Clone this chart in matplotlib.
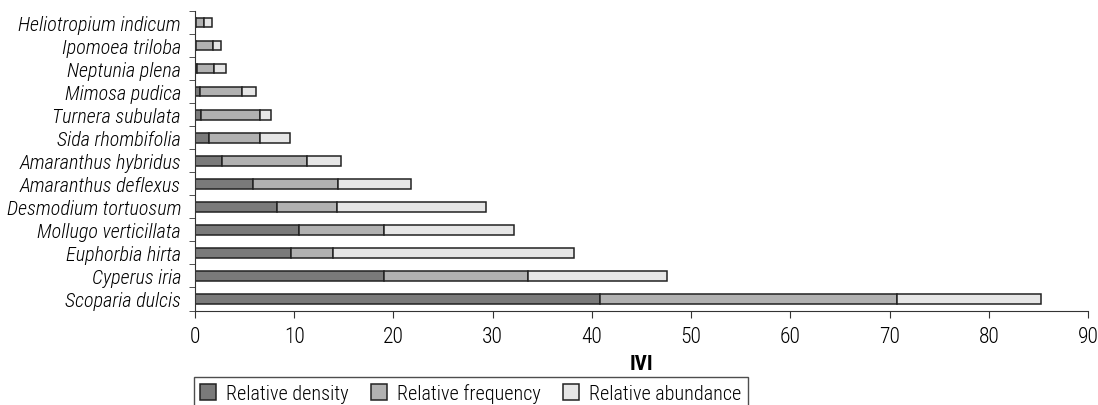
import matplotlib
matplotlib.use('Agg')
import matplotlib.pyplot as plt
import numpy as np
from matplotlib.patches import Patch
from matplotlib.ticker import FixedLocator

plt.rcParams['font.family'] = ['Roboto Condensed', 'DejaVu Sans']
plt.rcParams['font.weight'] = 'light'

# species listed from top of chart to bottom
species = ['Heliotropium indicum', 'Ipomoea triloba', 'Neptunia plena', 'Mimosa pudica',
           'Turnera subulata', 'Sida rhombifolia', 'Amaranthus hybridus',
           'Amaranthus deflexus', 'Desmodium tortuosum', 'Mollugo verticillata',
           'Euphorbia hirta', 'Cyperus iria', 'Scoparia dulcis']
rel_density = [0.1, 0.1, 0.2, 0.5, 0.6, 1.45, 2.7, 5.85, 8.3, 10.5, 9.65, 19.05, 40.8]
rel_frequency = [0.8, 1.7, 1.75, 4.25, 6.0, 5.1, 8.55, 8.6, 6.0, 8.55, 4.3, 14.55, 29.9]
rel_abundance = [0.8, 0.8, 1.15, 1.35, 1.1, 3.05, 3.45, 7.35, 15.0, 13.15, 24.25, 14.0, 14.6]

labels = ['Relative density', 'Relative frequency', 'Relative abundance']
colors = ['#7a7a7a', '#b1b1b1', '#e6e6e6']

fig = plt.figure(figsize=(10.98, 4.06), dpi=100)
ax = fig.add_axes([195/1098, 1 - 311.5/406, (1088 - 195)/1098, (311.5 - 12)/406])

y = np.arange(len(species))
left = np.zeros(len(species))
for vals, col in zip([rel_density, rel_frequency, rel_abundance], colors):
    ax.barh(y, vals, left=left, height=0.42, color=col, edgecolor='#222222', linewidth=1.1)
    left += np.array(vals)

ax.set_ylim(len(species) - 0.5, -0.5)
ax.set_xlim(0, 90)
ax.set_xticks(range(0, 91, 10))
ax.set_yticks(y)
ax.set_yticklabels(species, fontstyle='italic', fontsize=14.5)
ax.yaxis.set_minor_locator(FixedLocator(np.arange(-0.5, len(species), 1)))
ax.tick_params(axis='y', which='major', length=0, pad=10)
ax.tick_params(axis='y', which='minor', length=4, direction='out', color='#333333')
ax.tick_params(axis='x', length=5, direction='out', labelsize=15.5, color='#333333', pad=6)

for s in ['top', 'right']:
    ax.spines[s].set_visible(False)
for s in ['left', 'bottom']:
    ax.spines[s].set_color('#333333')

ax.set_xlabel('IVI', fontsize=15, fontweight='bold', labelpad=5)

handles = [Patch(facecolor=c, edgecolor='#222222', linewidth=1.1) for c in colors]
leg = fig.legend(handles, labels, ncol=3, loc='upper left',
                 bbox_to_anchor=(194/1098, 1 - 378/406), fontsize=14.5,
                 frameon=True, fancybox=False, edgecolor='#222222',
                 handlelength=0.8, handleheight=0.8, handletextpad=0.5,
                 columnspacing=1.1, borderpad=0.3, borderaxespad=0)
leg.get_frame().set_linewidth(1.0)

fig.savefig('out.png', dpi=100)
